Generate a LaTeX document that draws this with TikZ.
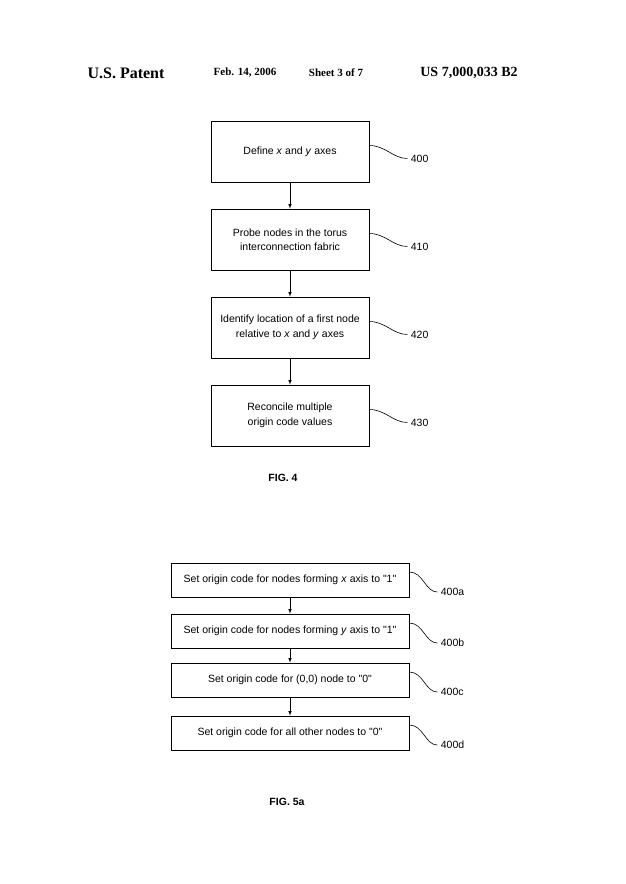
\documentclass[tikz,border=0pt]{standalone}
\usepackage{fontspec}
\setmainfont{Liberation Serif}
\newfontfamily\labelfont{Liberation Sans}
\usetikzlibrary{positioning}
\tikzset{
  stage/.style={draw, line width=0.6pt, font=\labelfont\fontsize{10.5}{12.5}\selectfont, align=center, inner sep=0pt},
  ref/.style={font=\labelfont\fontsize{10.5}{12.5}\selectfont, anchor=west},
  flow/.style={->, >=latex, line width=0.6pt},
  lead/.style={line width=0.6pt},
  head/.style={font=\bfseries\fontsize{11}{13}\selectfont}
}
\begin{document}
\begin{tikzpicture}[x=1pt, y=-1pt]
  \useasboundingbox (0,0) rectangle (625,884);
  % header
  \node[head, font=\bfseries\fontsize{16}{18}\selectfont] (pat) at (126,73) {U.S. Patent};
  \node[head] (date) at (245,73) {Feb. 14, 2006};
  \node[head] (sheet) at (336,73) {Sheet 3 of 7};
  \node[head, font=\bfseries\fontsize{14}{16}\selectfont] (num) at (469,73) {US 7,000,033 B2};
  % fig 4
  \node[stage, minimum width=158pt, minimum height=61pt] (Define) at (290,151.5) {Define \textit{x} and \textit{y} axes};
  \node[stage, minimum width=158pt, minimum height=61pt] (Probe) at (290,239.5) {Probe nodes in the torus\\[2pt]interconnection fabric};
  \node[stage, minimum width=158pt, minimum height=61pt] (Identify) at (290,327.5) {Identify location of a first node\\[2pt]relative to \textit{x} and \textit{y} axes};
  \node[stage, minimum width=158pt, minimum height=61pt] (Reconcile) at (290,415.5) {Reconcile multiple\\[2pt]origin code values};
  \draw[flow] (Define) -- (Probe);
  \draw[flow] (Probe) -- (Identify);
  \draw[flow] (Identify) -- (Reconcile);
  \foreach \blk/\lbl in {Define/400, Probe/410, Identify/420, Reconcile/430} {
    \node[ref] (\blk Ref) at ([xshift=38pt, yshift=-7pt]\blk.east) {\lbl};
    \draw[lead] ([yshift=6pt]\blk.east) .. controls +(16,0) and +(-14,0) .. (\blk Ref.west);
  }
  \node[font=\labelfont\bfseries\fontsize{10.5}{12.5}\selectfont] (fig4) at (283,478) {FIG. 4};
  % fig 5a
  \node[stage, minimum width=238pt, minimum height=34pt] (SetX) at (290,580) {Set origin code for nodes forming \textit{x} axis to "1"};
  \node[stage, minimum width=238pt, minimum height=34pt] (SetY) at (290,631) {Set origin code for nodes forming \textit{y} axis to "1"};
  \node[stage, minimum width=238pt, minimum height=34pt] (SetO) at (290,680) {Set origin code for (0,0) node to "0"};
  \node[stage, minimum width=238pt, minimum height=34pt] (SetR) at (290,733) {Set origin code for all other nodes to "0"};
  \draw[flow] (SetX) -- (SetY);
  \draw[flow] (SetY) -- (SetO);
  \draw[flow] (SetO) -- (SetR);
  \foreach \blk/\lbl in {SetX/400a, SetY/400b, SetO/400c, SetR/400d} {
    \node[ref] (\blk Ref) at ([xshift=28pt, yshift=-12pt]\blk.east) {\lbl};
    \draw[lead] ([yshift=8pt]\blk.east) .. controls +(14,0) and +(-12,0) .. (\blk Ref.west);
  }
  \node[font=\labelfont\bfseries\fontsize{10.5}{12.5}\selectfont] (fig5a) at (287,802) {FIG. 5a};
\end{tikzpicture}
\end{document}
